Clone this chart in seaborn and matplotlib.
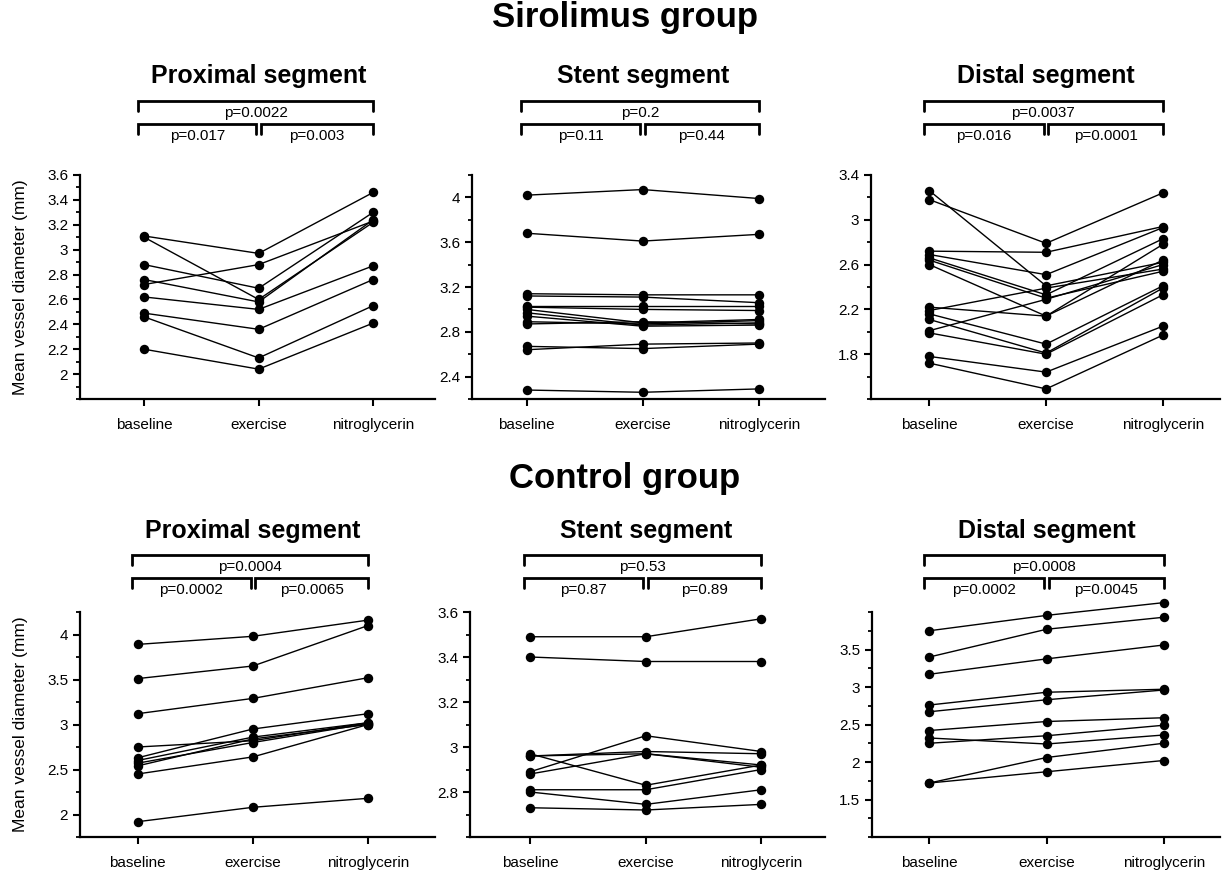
import numpy as np
import pandas as pd
import seaborn as sns
import matplotlib
matplotlib.use("Agg")
import matplotlib.pyplot as plt
import matplotlib.transforms as mtrans
from matplotlib.ticker import MultipleLocator, FuncFormatter

# ---------------- data ----------------
conditions = ["baseline", "exercise", "nitroglycerin"]
group_titles = ["Sirolimus group", "Control group"]
segment_titles = ["Proximal segment", "Stent segment", "Distal segment"]
y_label = "Mean vessel diameter (mm)"

# Sirolimus group, proximal segment
sir_prox_base = [3.11, 3.10, 2.88, 2.72, 2.76, 2.62, 2.49, 2.46, 2.20]
sir_prox_ex = [2.97, 2.60, 2.69, 2.88, 2.58, 2.52, 2.36, 2.13, 2.04]
sir_prox_nitro = [3.46, 3.22, 3.30, 3.23, 3.24, 2.87, 2.76, 2.55, 2.41]

# Sirolimus group, stent segment
sir_stent_base = [4.02, 3.68, 3.14, 3.12, 3.03, 3.02, 3.00, 2.97, 2.94, 2.89, 2.87, 2.67, 2.64, 2.28]
sir_stent_ex = [4.07, 3.61, 3.13, 3.11, 3.03, 3.00, 2.88, 2.86, 2.85, 2.87, 2.89, 2.65, 2.69, 2.26]
sir_stent_nitro = [3.99, 3.67, 3.13, 3.06, 3.03, 2.99, 2.91, 2.88, 2.86, 2.90, 2.87, 2.69, 2.70, 2.29]

# Sirolimus group, distal segment
sir_dist_base = [3.26, 3.18, 2.72, 2.69, 2.66, 2.64, 2.60, 2.22, 2.19, 2.01, 2.16, 2.11, 1.99, 1.78, 1.72]
sir_dist_ex = [2.41, 2.79, 2.71, 2.51, 2.33, 2.30, 2.14, 2.14, 2.39, 2.29, 1.89, 1.81, 1.80, 1.64, 1.49]
sir_dist_nitro = [2.62, 3.24, 2.94, 2.93, 2.83, 2.54, 2.78, 2.64, 2.56, 2.60, 2.41, 2.39, 2.33, 2.05, 1.97]

# Control group, proximal segment
ctl_prox_base = [3.89, 3.51, 3.12, 2.75, 2.63, 2.60, 2.57, 2.54, 2.45, 1.92]
ctl_prox_ex = [3.98, 3.65, 3.29, 2.82, 2.95, 2.86, 2.80, 2.84, 2.64, 2.08]
ctl_prox_nitro = [4.16, 4.10, 3.52, 3.02, 3.12, 3.02, 3.01, 3.00, 3.00, 2.18]

# Control group, stent segment
ctl_stent_base = [3.49, 3.40, 2.97, 2.96, 2.96, 2.89, 2.88, 2.81, 2.80, 2.73]
ctl_stent_ex = [3.49, 3.38, 2.83, 2.98, 2.97, 3.05, 2.97, 2.81, 2.745, 2.72]
ctl_stent_nitro = [3.57, 3.38, 2.92, 2.97, 2.91, 2.98, 2.92, 2.90, 2.81, 2.745]

# Control group, distal segment
ctl_dist_base = [3.75, 3.40, 3.17, 2.76, 2.67, 2.42, 2.25, 2.32, 1.72, 1.72]
ctl_dist_ex = [3.955, 3.77, 3.375, 2.93, 2.83, 2.54, 2.35, 2.24, 2.06, 1.87]
ctl_dist_nitro = [4.125, 3.93, 3.56, 2.97, 2.96, 2.59, 2.49, 2.36, 2.25, 2.02]

# p-values (overall, baseline-exercise, exercise-nitroglycerin)
sir_prox_p = ["p=0.0022", "p=0.017", "p=0.003"]
sir_stent_p = ["p=0.2", "p=0.11", "p=0.44"]
sir_dist_p = ["p=0.0037", "p=0.016", "p=0.0001"]
ctl_prox_p = ["p=0.0004", "p=0.0002", "p=0.0065"]
ctl_stent_p = ["p=0.53", "p=0.87", "p=0.89"]
ctl_dist_p = ["p=0.0008", "p=0.0002", "p=0.0045"]

panels = [
    [(sir_prox_base, sir_prox_ex, sir_prox_nitro, sir_prox_p),
     (sir_stent_base, sir_stent_ex, sir_stent_nitro, sir_stent_p),
     (sir_dist_base, sir_dist_ex, sir_dist_nitro, sir_dist_p)],
    [(ctl_prox_base, ctl_prox_ex, ctl_prox_nitro, ctl_prox_p),
     (ctl_stent_base, ctl_stent_ex, ctl_stent_nitro, ctl_stent_p),
     (ctl_dist_base, ctl_dist_ex, ctl_dist_nitro, ctl_dist_p)],
]

# axis settings: (ylim, major step, minor step)
yaxes = [
    [((1.8, 3.6), 0.2, 0.1), ((2.2, 4.2), 0.4, 0.2), ((1.4, 3.4), 0.4, 0.2)],
    [((1.75, 4.25), 0.5, 0.25), ((2.6, 3.6), 0.2, 0.1), ((1.0, 4.0), 0.5, 0.25)],
]
major_first = [[2.0, 2.4, 1.8], [2.0, 2.8, 1.5]]
major_last = [[3.6, 4.0, 3.4], [4.0, 3.6, 3.5]]

# ---------------- style ----------------
sns.set_theme(style="ticks")
plt.rcParams["font.family"] = ["Liberation Sans", "DejaVu Sans"]
plt.rcParams["axes.linewidth"] = 1.6
plt.rcParams["text.color"] = "black"
plt.rcParams["axes.labelcolor"] = "black"
plt.rcParams["axes.edgecolor"] = "black"

W, H = 1224, 871
fig = plt.figure(figsize=(W / 100, H / 100), dpi=100)

# pixel boxes (left, right) per panel and (top, bottom) per row
col_px = [[(80, 435), (472, 825), (871, 1220)],
          [(80, 435), (470, 825), (872, 1220)]]
row_px = [(175, 399), (612, 837)]
xlims = [[(-0.56, 2.54), (-0.47, 2.57), (-0.5, 2.49)],
         [(-0.5, 2.58), (-0.52, 2.55), (-0.49, 2.48)]]

bar_y = [(1.330, 1.228), (1.253, 1.151)]
title_y = [1.44, 1.36]
drop = 0.045
txt_off = 0.052

fmt = FuncFormatter(lambda v, p: f"{v:g}")

for r in range(2):
    top, bot = row_px[r]
    for c in range(3):
        l, rr = col_px[r][c]
        ax = fig.add_axes([l / W, 1 - bot / H, (rr - l) / W, (bot - top) / H])
        base, ex, nitro, pv = panels[r][c]
        n = len(base)
        df = pd.DataFrame({
            "subject": np.tile(np.arange(n), 3),
            "cond": np.repeat(np.arange(3), n),
            "value": list(base) + list(ex) + list(nitro),
        })
        sns.lineplot(data=df, x="cond", y="value", units="subject", estimator=None,
                     color="black", lw=1.0, marker="o", markersize=6.8,
                     markeredgewidth=0, ax=ax, clip_on=False, legend=False)
        (ylo, yhi), maj, mnr = yaxes[r][c]
        ax.set_ylim(ylo, yhi)
        ax.set_xlim(*xlims[r][c])
        ax.set_yticks(np.arange(major_first[r][c], major_last[r][c] + 1e-6, maj))
        ax.yaxis.set_minor_locator(MultipleLocator(mnr))
        ax.yaxis.set_major_formatter(fmt)
        ax.set_xticks([0, 1, 2])
        ax.set_xticklabels(conditions)
        ax.tick_params(axis="both", which="major", direction="out", length=5, width=1.5,
                       labelsize=11, colors="black")
        ax.tick_params(axis="y", which="minor", direction="out", length=3, width=1.3,
                       colors="black")
        ax.tick_params(axis="x", pad=9)
        ax.set_xlabel("")
        if c == 0:
            ax.set_ylabel(y_label, fontsize=12.5, labelpad=14)
        else:
            ax.set_ylabel("")
        sns.despine(ax=ax)

        tr = mtrans.blended_transform_factory(ax.transData, ax.transAxes)
        b1, b2 = bar_y[r]
        def bracket(x0, x1, y, text):
            ax.plot([x0, x0, x1, x1], [y - drop, y, y, y - drop], color="black", lw=2,
                    transform=tr, clip_on=False, solid_joinstyle="miter")
            ax.text((x0 + x1) / 2, y - txt_off, text, transform=tr, ha="center",
                    va="center", fontsize=11, color="black")
        bracket(-0.05, 2.0, b1, pv[0])
        bracket(-0.05, 0.98, b2, pv[1])
        bracket(1.02, 2.0, b2, pv[2])
        ax.text(1.0, title_y[r], segment_titles[c], transform=tr, ha="center",
                va="center", fontsize=18, fontweight="bold", color="black")

fig.text(625 / W, 1 - 18 / H, group_titles[0], ha="center", va="center",
         fontsize=25, fontweight="bold", color="black")
fig.text(625 / W, 1 - 478 / H, group_titles[1], ha="center", va="center",
         fontsize=25, fontweight="bold", color="black")

fig.savefig("out.png", dpi=100, facecolor="white")
